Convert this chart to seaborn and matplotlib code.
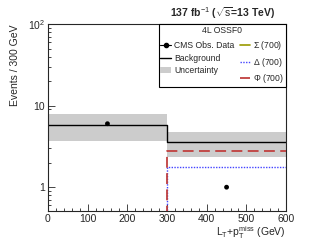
import numpy as np
import matplotlib
matplotlib.use('agg')
import matplotlib.pyplot as plt
import seaborn as sns
from matplotlib.patches import Patch
from matplotlib.lines import Line2D
from matplotlib.ticker import FixedLocator, FixedFormatter, MultipleLocator, NullFormatter

# binned data (L_T + pT miss, 300 GeV bins)
bin_edges = [0, 300, 600]
data_obs = [6, 1]
background = [5.8, 3.56]
unc_low = [3.73, 2.33]
unc_high = [7.96, 4.77]
sigma_700 = [0, 0]
delta_700 = [0, 1.78]
phi_700 = [0, 2.81]

sns.set_style("ticks")
plt.rcParams['font.family'] = ['Liberation Sans', 'DejaVu Sans']
plt.rcParams['mathtext.fontset'] = 'custom'
plt.rcParams['mathtext.rm'] = 'Liberation Sans'
plt.rcParams['mathtext.it'] = 'Liberation Sans'

fig = plt.figure(figsize=(3.11, 2.48), dpi=100)
ax = fig.add_axes([0.154, 0.149, 0.766, 0.754])

edges = np.array(bin_edges)
centers = (edges[:-1] + edges[1:]) / 2


def steps(vals):
    # repeat the last value so steps-post reaches the right edge
    v = np.maximum(np.array(vals, dtype=float), 1e-3)
    return np.append(v, v[-1])


ax.fill_between(edges, steps(unc_low), steps(unc_high), step='post',
                color='#cccccc', linewidth=0, zorder=1)
sns.lineplot(x=edges, y=steps(background), drawstyle='steps-post', color='black',
             linewidth=1.0, ax=ax, zorder=2)
sns.lineplot(x=edges, y=steps(sigma_700), drawstyle='steps-post', color='#999900',
             linewidth=1.2, ax=ax, zorder=3)
sns.lineplot(x=edges, y=steps(delta_700), drawstyle='steps-post', color='#4444ff',
             linewidth=1.0, linestyle=(0, (1, 1)), ax=ax, zorder=4)
sns.lineplot(x=edges, y=steps(phi_700), drawstyle='steps-post', color='#c0403f',
             linewidth=1.3, linestyle=(0, (6, 3)), ax=ax, zorder=5)
sns.scatterplot(x=centers, y=data_obs, color='black', s=12, edgecolor='none',
                ax=ax, zorder=6)

ax.set_yscale('log')
ax.set_xlim(0, 600)
ax.set_ylim(0.51, 100)

ax.yaxis.set_major_locator(FixedLocator([1, 10, 100]))
ax.yaxis.set_major_formatter(FixedFormatter(['1', '10', '$10^{2}$']))
ax.yaxis.set_minor_formatter(NullFormatter())
ax.xaxis.set_major_locator(MultipleLocator(100))
ax.xaxis.set_minor_locator(MultipleLocator(20))
ax.tick_params(which='both', direction='in', labelsize=7.5, width=0.6)
ax.tick_params(which='major', length=5, pad=2)
ax.tick_params(which='minor', length=2.5)
for s in ax.spines.values():
    s.set_linewidth(0.8)

ax.set_xlabel(r'L$_T$+p$_T^{miss}$ (GeV)', loc='right', fontsize=7.5, labelpad=0)
ax.set_ylabel('Events / 300 GeV', loc='top', fontsize=7.5, labelpad=6)

fig.text(0.884, 0.915, r'137 fb$^{-1}$ ($\sqrt{s}$=13 TeV)', ha='right', va='bottom',
         fontsize=7.5, fontweight='bold')

handles = [
    Line2D([], [], color='black', marker='o', markersize=3, linewidth=0.8),
    Line2D([], [], color='black', linewidth=1.0),
    Patch(facecolor='#cccccc', edgecolor='none'),
    Line2D([], [], color='#999900', linewidth=1.2),
    Line2D([], [], color='#4444ff', linewidth=1.0, linestyle=(0, (1, 1))),
    Line2D([], [], color='#c0403f', linewidth=1.3, linestyle=(0, (6, 3))),
]
labels = ['CMS Obs. Data', 'Background', 'Uncertainty',
          r'$\Sigma$ (700)', r'$\Delta$ (700)', r'$\Phi$ (700)']
leg = ax.legend(handles, labels, ncol=2, title='4L OSSF0', loc='upper right',
                bbox_to_anchor=(1.0, 1.0), borderaxespad=0, fontsize=6.2,
                title_fontsize=6.2, fancybox=False, edgecolor='black',
                framealpha=1, handlelength=1.2, handletextpad=0.4,
                columnspacing=0.6, labelspacing=0.45, borderpad=0.2)
leg.get_frame().set_linewidth(0.8)

fig.savefig('out.png', dpi=100)
